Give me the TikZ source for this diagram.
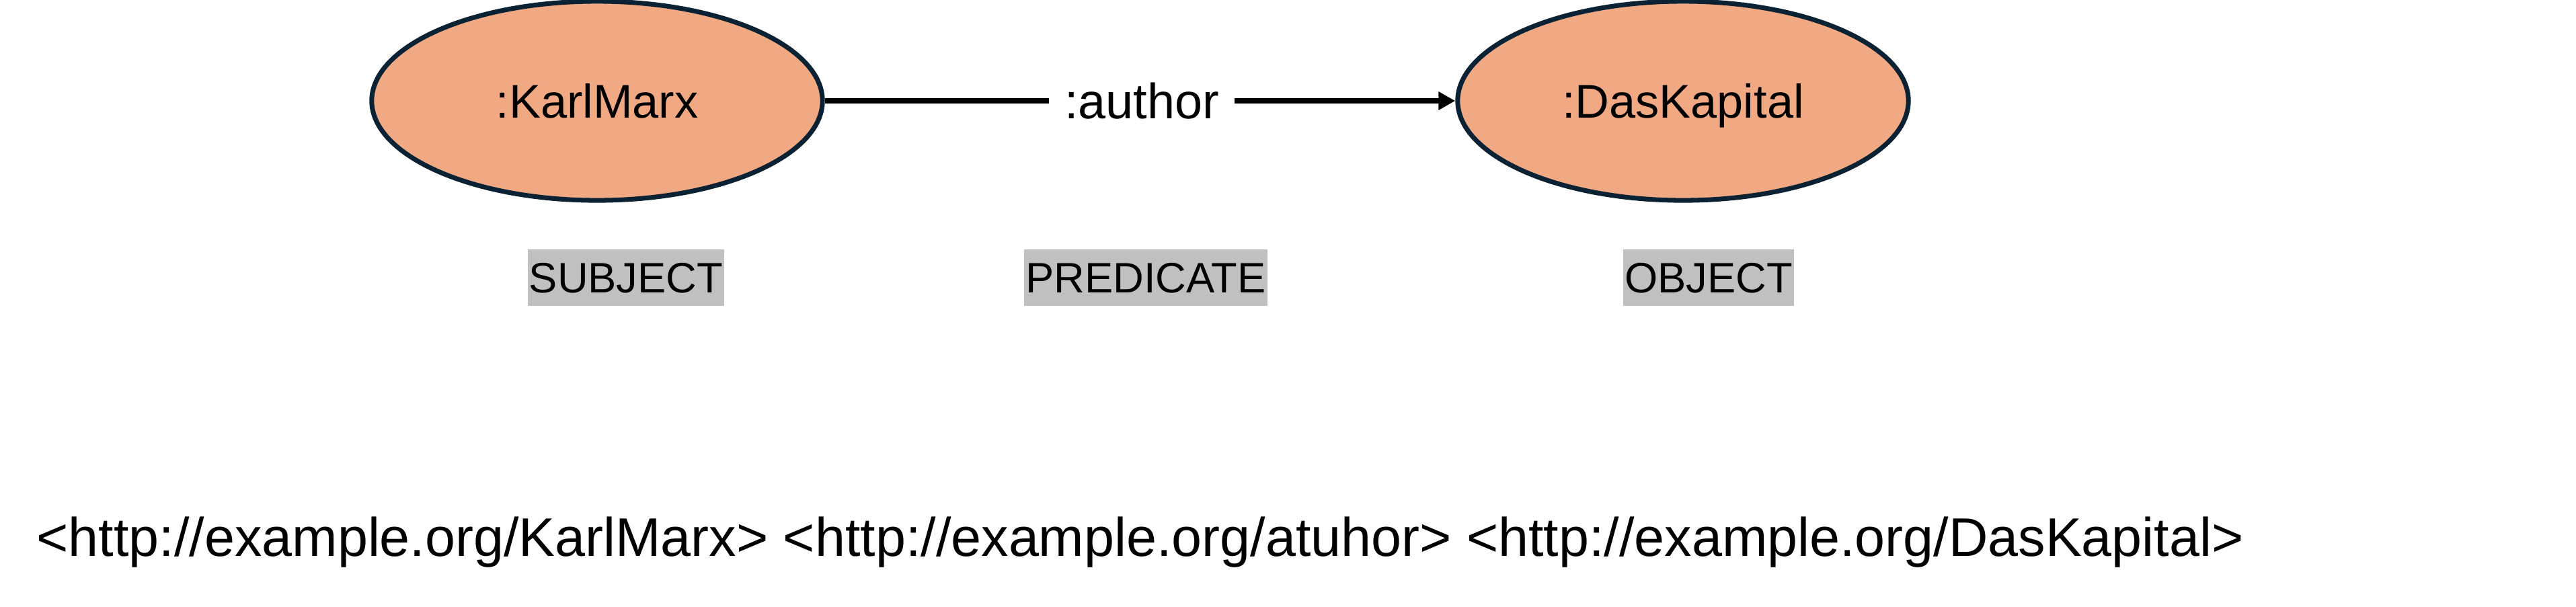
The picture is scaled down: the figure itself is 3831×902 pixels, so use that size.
\documentclass[tikz,border=0pt]{standalone}
\usepackage{fontspec}
\setmainfont{Liberation Sans}
\usetikzlibrary{shapes.geometric,arrows.meta}
\definecolor{nodefill}{RGB}{241,169,131}
\definecolor{nodeborder}{HTML}{0A2233}
\definecolor{labgray}{RGB}{192,192,192}
\begin{document}
\begin{tikzpicture}[x=0.01cm,y=-0.01cm,
  res/.style={ellipse,draw=nodeborder,fill=nodefill,line width=2pt,
    minimum width=6.7cm,minimum height=2.96cm,inner sep=0pt,
    font=\fontsize{20}{24}\selectfont,text height=14.3pt,text depth=0pt},
  pred/.style={inner xsep=0.22cm,inner ysep=0pt,font=\fontsize{21}{25}\selectfont,
    text height=15pt,text depth=0pt},
  role/.style={fill=labgray,inner xsep=0.5pt,inner ysep=0pt,minimum height=0.84cm,
    font=\fontsize{18}{22}\selectfont,text height=12.9pt,text depth=0pt},
  conn/.style={line width=2pt,black},
  triple/.style={anchor=base west,inner sep=0pt,font=\fontsize{23}{28}\selectfont}]
\useasboundingbox (0,0) rectangle (3831,902);
\fill[white] (0,0) rectangle (3831,902);
\node[res] (s) at (888,150) {:KarlMarx};
\node[res] (o) at (2503,150) {:DasKapital};
\node[pred] (p) at (1698,150) {:author};
\draw[conn] (s.east) -- (p.west);
\draw[conn,-{Triangle[length=0.25cm,width=0.26cm]}] (p.east) -- (o.west);
\node[role] (rs) at (931,413) {SUBJECT};
\node[role] (rp) at (1704,413) {PREDICATE};
\node[role] (ro) at (2541,413) {OBJECT};
\node[triple] (t) at (54,827) {<http://example.org/KarlMarx> <http://example.org/atuhor> <http://example.org/DasKapital>};
\end{tikzpicture}
\end{document}
